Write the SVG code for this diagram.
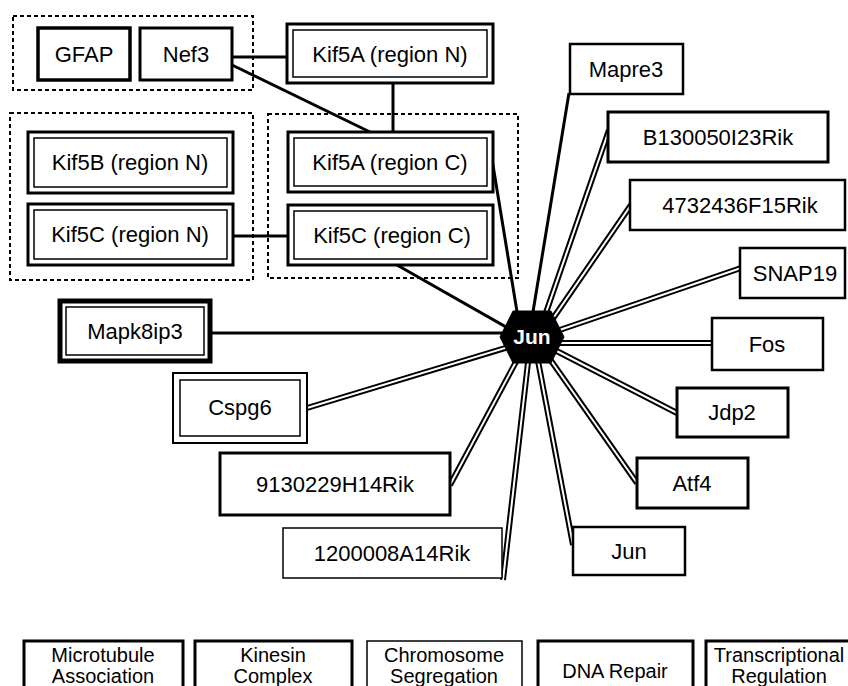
<svg xmlns="http://www.w3.org/2000/svg" width="848" height="686" viewBox="0 0 848 686">
<style>
.bg{fill:#fff}
.b{fill:#fff;stroke:#000}
.n{fill:none;stroke:#000}
.t{font-family:"Liberation Sans",Arial,Helvetica,sans-serif;font-size:22px;text-anchor:middle;dominant-baseline:central;fill:#000}
.lt{font-family:"Liberation Sans",Arial,Helvetica,sans-serif;font-size:20px;text-anchor:middle;fill:#000}
.grp{fill:none;stroke:#000;stroke-width:2;stroke-dasharray:4 3}
.s{stroke:#000;stroke-width:3;fill:none}
.dO{stroke:#000;stroke-width:6;fill:none}
.dI{stroke:#fff;stroke-width:2;fill:none}
</style>
<rect class="bg" x="0" y="0" width="848" height="686"/>

<g id="groups">
<rect class="grp" x="13" y="16" width="240" height="74"/>
<rect class="grp" x="10" y="113" width="243" height="167"/>
<rect class="grp" x="268" y="114" width="250" height="164"/>
</g>

<g id="connectors">
<line class="s" stroke-width="2.5" x1="232" y1="57" x2="287" y2="57"/>
<line class="s" stroke-width="2.5" x1="232" y1="65" x2="370" y2="132"/>
<line class="s" stroke-width="2.5" x1="393" y1="83" x2="393" y2="132"/>
<line class="s" stroke-width="2" x1="233" y1="236" x2="288" y2="236"/>
<line class="s" x1="490" y1="147" x2="520" y2="330"/>
<line class="s" x1="397" y1="265" x2="520" y2="335"/>
<line class="s" x1="569" y1="93" x2="530" y2="330"/>
<line class="s" x1="210" y1="333" x2="520" y2="333"/>
<g id="double-outer">
<line class="dO" x1="609" y1="130" x2="540" y2="330"/>
<line class="dO" x1="631" y1="205" x2="545" y2="330"/>
<line class="dO" x1="741" y1="268" x2="545" y2="335"/>
<line class="dO" x1="712" y1="343" x2="545" y2="343"/>
<line class="dO" x1="677" y1="413" x2="545" y2="345"/>
<line class="dO" x1="637" y1="483" x2="540" y2="345"/>
<line class="dO" x1="573" y1="545" x2="535" y2="345"/>
<line class="dO" x1="503" y1="580" x2="530" y2="345"/>
<line class="dO" x1="450" y1="485" x2="525" y2="345"/>
<line class="dO" x1="307" y1="408" x2="525" y2="342"/>
</g>
<g id="double-inner">
<line class="dI" x1="609" y1="130" x2="540" y2="330"/>
<line class="dI" x1="631" y1="205" x2="545" y2="330"/>
<line class="dI" x1="741" y1="268" x2="545" y2="335"/>
<line class="dI" x1="712" y1="343" x2="545" y2="343"/>
<line class="dI" x1="677" y1="413" x2="545" y2="345"/>
<line class="dI" x1="637" y1="483" x2="540" y2="345"/>
<line class="dI" x1="573" y1="545" x2="535" y2="345"/>
<line class="dI" x1="503" y1="580" x2="530" y2="345"/>
<line class="dI" x1="450" y1="485" x2="525" y2="345"/>
<line class="dI" x1="307" y1="408" x2="525" y2="342"/>
</g>
</g>

<g id="GFAP"><rect class="b" stroke-width="3.5" x="38" y="28" width="92" height="52"/><text class="t" x="84" y="54">GFAP</text></g>
<g id="Nef3"><rect class="b" stroke-width="3" x="140" y="28" width="92" height="52"/><text class="t" x="186" y="54">Nef3</text></g>
<g id="Kif5A_N"><rect class="b" stroke-width="3" x="287" y="24" width="206" height="59"/><rect class="n" stroke-width="1.5" x="293" y="30" width="194" height="47"/><text class="t" x="390" y="54">Kif5A (region N)</text></g>
<g id="Kif5B_N"><rect class="b" stroke-width="3" x="28" y="132" width="205" height="61"/><rect class="n" stroke-width="1.5" x="34" y="138" width="193" height="49"/><text class="t" x="130" y="162">Kif5B (region N)</text></g>
<g id="Kif5C_N"><rect class="b" stroke-width="3" x="28" y="204" width="205" height="61"/><rect class="n" stroke-width="1.5" x="34" y="210" width="193" height="49"/><text class="t" x="130" y="234">Kif5C (region N)</text></g>
<g id="Kif5A_C"><rect class="b" stroke-width="3" x="288" y="132" width="205" height="60"/><rect class="n" stroke-width="1.5" x="294" y="138" width="193" height="48"/><text class="t" x="390" y="162">Kif5A (region C)</text></g>
<g id="Kif5C_C"><rect class="b" stroke-width="3" x="288" y="205" width="205" height="60"/><rect class="n" stroke-width="1.5" x="294" y="211" width="193" height="48"/><text class="t" x="392" y="235">Kif5C (region C)</text></g>

<g id="Mapre3"><rect class="b" stroke-width="2.5" x="570" y="44" width="113" height="50"/><text class="t" x="626" y="69">Mapre3</text></g>
<g id="B130050I23Rik"><rect class="b" stroke-width="3" x="608" y="112" width="220" height="50"/><text class="t" x="718" y="137">B130050I23Rik</text></g>
<g id="R4732436F15Rik"><rect class="b" stroke-width="2.5" x="630" y="180" width="215" height="50"/><text class="t" x="740" y="205">4732436F15Rik</text></g>
<g id="SNAP19"><rect class="b" stroke-width="2.5" x="740" y="248" width="105" height="50"/><text class="t" x="795" y="273">SNAP19</text></g>
<g id="Fos"><rect class="b" stroke-width="2.5" x="712" y="318" width="111" height="52"/><text class="t" x="767" y="344">Fos</text></g>
<g id="Jdp2"><rect class="b" stroke-width="3" x="677" y="388" width="111" height="49"/><text class="t" x="732" y="412">Jdp2</text></g>
<g id="Atf4"><rect class="b" stroke-width="3" x="637" y="458" width="111" height="50"/><text class="t" x="692" y="483">Atf4</text></g>
<g id="Jun_target"><rect class="b" stroke-width="2.5" x="573" y="527" width="112" height="48"/><text class="t" x="629" y="551">Jun</text></g>

<g id="Mapk8ip3"><rect class="b" stroke-width="5" x="60" y="301" width="150" height="60"/><rect class="n" stroke-width="1.5" x="66" y="307" width="138" height="48"/><text class="t" x="135" y="331">Mapk8ip3</text></g>
<g id="Cspg6"><rect class="b" stroke-width="2" x="173" y="373" width="134" height="70"/><rect class="n" stroke-width="1.5" x="180" y="380" width="120" height="56"/><text class="t" x="240" y="407">Cspg6</text></g>
<g id="R9130229H14Rik"><rect class="b" stroke-width="3" x="220" y="453" width="230" height="62"/><text class="t" x="335" y="484">9130229H14Rik</text></g>
<g id="R1200008A14Rik"><rect class="b" stroke-width="1.5" x="283" y="528" width="219" height="50"/><text class="t" x="392" y="553">1200008A14Rik</text></g>

<g id="Jun_hub"><polygon points="500,337 513,311 551,311 564,337 551,363 513,363" fill="#000" stroke="#000" stroke-width="1"/><text class="t" x="532" y="336" style="fill:#fff;font-size:21px;font-weight:bold">Jun</text></g>

<g id="legend">
<g id="leg_microtubule"><rect class="b" stroke-width="3" x="24" y="641" width="159" height="60"/><text class="lt" x="103" y="662">Microtubule</text><text class="lt" x="103" y="683">Association</text></g>
<g id="leg_kinesin"><rect class="b" stroke-width="3" x="195" y="641" width="157" height="60"/><text class="lt" x="273" y="662">Kinesin</text><text class="lt" x="273" y="683">Complex</text></g>
<g id="leg_chromosome"><rect class="b" stroke-width="1.5" x="367" y="641" width="155" height="60"/><text class="lt" x="444" y="662">Chromosome</text><text class="lt" x="444" y="683">Segregation</text></g>
<g id="leg_dna"><rect class="b" stroke-width="3" x="538" y="641" width="155" height="60"/><text class="lt" x="615" y="678">DNA Repair</text></g>
<g id="leg_transcription"><rect class="b" stroke-width="3" x="706" y="641" width="160" height="60"/><text class="lt" x="779" y="662">Transcriptional</text><text class="lt" x="779" y="683">Regulation</text></g>
</g>
</svg>
